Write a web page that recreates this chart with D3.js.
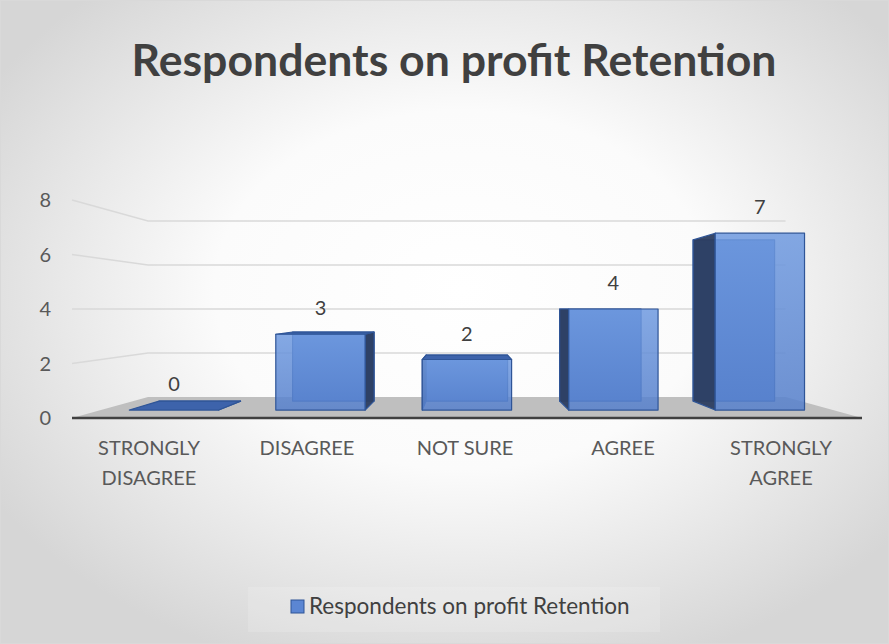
<!DOCTYPE html>
<html lang="en">
<head>
<meta charset="UTF-8"/>
<title>Respondents on profit Retention</title>
<script src="https://d3js.org/d3.v7.min.js"></script>
<style type="text/css">
    body { margin: 0; }
    text { font-family: Lato, "Open Sans", sans-serif; fill: #595959; }
</style>
</head>
<body>
<div id="chart"></div>
<script>
// data
var categories = ["STRONGLY DISAGREE", "DISAGREE", "NOT SURE", "AGREE", "STRONGLY AGREE"]
var values = [0, 3, 2, 4, 7]
var yTicks = [0, 2, 4, 6, 8]
var seriesName = "Respondents on profit Retention"
var title = "Respondents on profit Retention"

var width = 889, height = 644

// perspective: vanishing point and depth scale factors
var vpX = 466, vpY = 309
var sFloorBack = 0.807, sBarFront = 0.927, sBarBack = 0.845

var svg = d3.select("#chart").append("svg")
    .attr("width", width)
    .attr("height", height)

var defs = svg.append("defs")
var bg = defs.append("radialGradient").attr("id", "bg")
    .attr("cx", "52%").attr("cy", "45%").attr("r", "62%")
bg.append("stop").attr("offset", "0%").attr("stop-color", "#ffffff")
bg.append("stop").attr("offset", "45%").attr("stop-color", "#fbfbfb")
bg.append("stop").attr("offset", "100%").attr("stop-color", "#d6d6d6")

var front = defs.append("linearGradient").attr("id", "front")
    .attr("x1", 0).attr("y1", 0).attr("x2", 0).attr("y2", 1)
front.append("stop").attr("offset", "0%").attr("stop-color", "#6f9ae0")
front.append("stop").attr("offset", "100%").attr("stop-color", "#5680cc")

svg.append("rect")
    .attr("x", 0.5).attr("y", 0.5)
    .attr("width", width - 1).attr("height", height - 1)
    .attr("fill", "url(#bg)")
    .attr("stroke", "#d9d9d9")

// scales in the front plane (depth factor 1)
var x = d3.scaleBand()
    .domain(categories)
    .range([72, 862])
    .paddingInner(0.39)
    .paddingOuter(0.195)

var y = d3.scaleLinear()
    .domain([0, 8])
    .range([418, 200])

function proj(px, py, s) {
    return [vpX + (px - vpX) * s, vpY + (py - vpY) * s]
}
var line = d3.line()

// title
var t = svg.append("text")
    .attr("x", 454).attr("y", 76)
    .attr("text-anchor", "middle")
    .style("font-weight", "bold")
    .style("font-size", "40px")
    .style("fill", "#404040")
    .text(title)
var tw = t.node().getComputedTextLength()
t.style("font-size", (40 * 645 / tw) + "px")

// floor
var x0 = x.range()[0], x1 = x.range()[1]
svg.append("path")
    .attr("d", line([proj(x0, y(0), 1), proj(x1, y(0), 1), proj(x1, y(0), sFloorBack), proj(x0, y(0), sFloorBack)]) + "Z")
    .attr("fill", "#bfbfbf")

// gridlines on side and back walls
svg.selectAll(".grid")
    .data(yTicks.filter(function(d) { return d > 0 }))
    .enter()
    .append("path")
    .attr("class", "grid")
    .attr("d", function(d) {
        return line([proj(x0, y(d), 1), proj(x0, y(d), sFloorBack), proj(x1, y(d), sFloorBack)])
    })
    .attr("fill", "none")
    .attr("stroke", "#d9d9d9")
    .attr("stroke-width", 1.5)

// front edge of floor
svg.append("path")
    .attr("d", line([proj(x0, y(0), 1), proj(x1, y(0), 1)]))
    .attr("stroke", "#404040")
    .attr("stroke-width", 2.5)

// y axis labels
svg.selectAll(".ylab")
    .data(yTicks)
    .enter()
    .append("text")
    .attr("class", "ylab")
    .attr("x", 51)
    .attr("y", function(d) { return y(d) + 7 })
    .attr("text-anchor", "end")
    .style("font-size", "20px")
    .text(function(d) { return d })

// bars
var bars = svg.selectAll(".bar")
    .data(values)
    .enter()
    .append("g")
    .attr("class", "bar")

bars.each(function(v, i) {
    var g = d3.select(this)
    var L = x(categories[i]), R = L + x.bandwidth()
    var T = y(v), B = y(0)
    function face(pts, fill, op) {
        g.append("path")
            .attr("d", line(pts) + "Z")
            .attr("fill", fill)
            .attr("fill-opacity", op)
            .attr("stroke", "#2f5597")
            .attr("stroke-width", 1.2)
            .attr("stroke-linejoin", "round")
    }
    // back face
    face([proj(L, T, sBarBack), proj(R, T, sBarBack), proj(R, B, sBarBack), proj(L, B, sBarBack)], "#5a84cf", 1)
    // side face toward vanishing point
    var cx = (L + R) / 2
    var sx = cx < vpX ? R : L
    face([proj(sx, T, sBarFront), proj(sx, T, sBarBack), proj(sx, B, sBarBack), proj(sx, B, sBarFront)], "#2c3d60", 0.95)
    // top face when below eye level
    if (T > vpY || v === 0) {
        face([proj(L, T, sBarFront), proj(R, T, sBarFront), proj(R, T, sBarBack), proj(L, T, sBarBack)], "#3d63ab", 1)
    }
    // front face
    if (v > 0) {
        face([proj(L, T, sBarFront), proj(R, T, sBarFront), proj(R, B, sBarFront), proj(L, B, sBarFront)], "url(#front)", 0.85)
    }
    // value label
    var p = proj(cx, T, sBarFront)
    g.append("text")
        .attr("x", p[0])
        .attr("y", p[1] - 19)
        .attr("text-anchor", "middle")
        .style("font-size", "20px")
        .style("fill", "#404040")
        .text(v)
})

// category labels
var cat = svg.selectAll(".cat")
    .data(categories)
    .enter()
    .append("text")
    .attr("class", "cat")
    .attr("text-anchor", "middle")
    .style("font-size", "20px")
    .attr("transform", function(d) { return "translate(" + (x(d) + x.bandwidth() / 2 - 2) + ",455)" })

cat.selectAll("tspan")
    .data(function(d) { return d === "NOT SURE" ? [d] : d.split(" ") })
    .enter()
    .append("tspan")
    .attr("x", 0)
    .attr("dy", function(d, i) { return i ? 30 : 0 })
    .text(function(d) { return d })

// legend
svg.append("rect")
    .attr("x", 248).attr("y", 587)
    .attr("width", 412).attr("height", 45)
    .attr("fill", "#ffffff").attr("fill-opacity", 0.15)
svg.append("rect")
    .attr("x", 291).attr("y", 600)
    .attr("width", 13).attr("height", 13)
    .attr("fill", "#5b86d3")
    .attr("stroke", "#2f5597")
svg.append("text")
    .attr("x", 309).attr("y", 614)
    .style("font-size", "22.5px")
    .style("fill", "#404040")
    .text(seriesName)
</script>
</body>
</html>
